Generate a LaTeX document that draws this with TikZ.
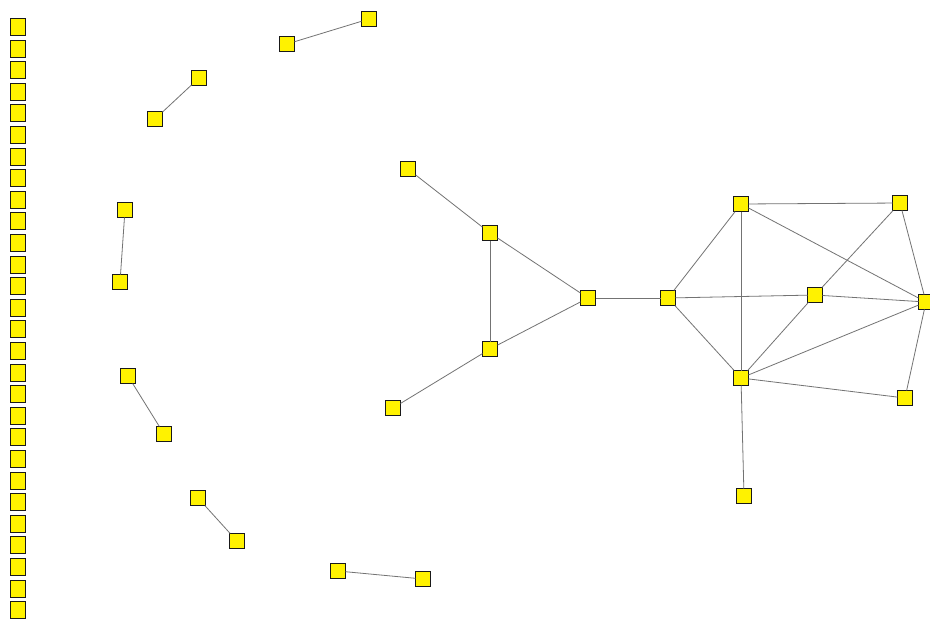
\documentclass[tikz,border=0pt]{standalone}
\begin{document}
\begin{tikzpicture}[x=1pt,y=-1pt,
  vtx/.style={draw=black!90,fill=yellow,line width=1pt,minimum width=15pt,minimum height=15pt,inner sep=0pt,outer sep=0pt,rectangle},
  col/.style={vtx,minimum height=17pt},
  edge/.style={draw=black!55,line width=0.8pt}]
\useasboundingbox[fill=white] (0,0) rectangle (930,622);
% isolated vertices stacked along the left margin
\foreach \i in {0,...,27}
  \node[col] (z\i) at (18,{27+\i*21.6}) {};
% vertices
\node[vtx] (a) at (369,19) {};
\node[vtx] (b) at (287,44) {};
\node[vtx] (c) at (199,78) {};
\node[vtx] (d) at (155,119) {};
\node[vtx] (e) at (125,210) {};
\node[vtx] (f) at (120,282) {};
\node[vtx] (g) at (128,376) {};
\node[vtx] (h) at (164,434) {};
\node[vtx] (i) at (198,498) {};
\node[vtx] (j) at (237,541) {};
\node[vtx] (k) at (338,571) {};
\node[vtx] (l) at (423,579) {};
\node[vtx] (m) at (408,169) {};
\node[vtx] (n) at (490,233) {};
\node[vtx] (o) at (490,349) {};
\node[vtx] (p) at (588,298) {};
\node[vtx] (q) at (393,408) {};
\node[vtx] (r) at (668,298) {};
\node[vtx] (s) at (741,204) {};
\node[vtx] (t) at (900,203) {};
\node[vtx] (u) at (815,295) {};
\node[vtx] (v) at (926,302) {};
\node[vtx] (w) at (741,378) {};
\node[vtx] (x) at (905,398) {};
\node[vtx] (y) at (744,496) {};
% edges
\foreach \p/\q in {a/b,c/d,e/f,g/h,i/j,k/l,m/n,n/o,n/p,o/p,o/q,p/r,
  r/s,r/u,r/w,s/t,s/w,s/v,t/u,t/v,u/v,u/w,w/v,w/x,v/x,w/y}
  \path[edge] (\p) -- (\q);
\end{tikzpicture}
\end{document}
